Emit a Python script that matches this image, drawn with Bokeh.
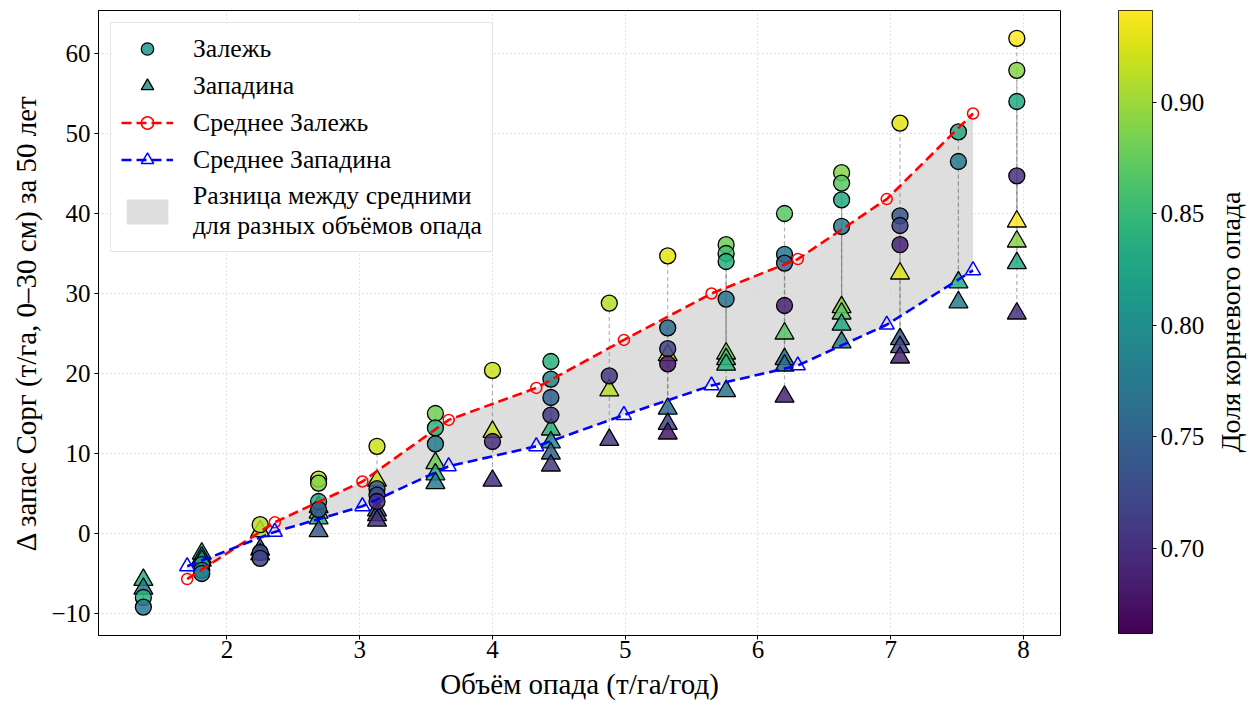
import numpy as np
from bokeh.plotting import figure
from bokeh.models import (ColumnDataSource, LinearColorMapper, Legend, LegendItem,
                          FixedTicker, Range1d, NumeralTickFormatter)
from bokeh.transform import transform
from bokeh.palettes import Viridis256
from bokeh.layouts import row
from bokeh.embed import file_html
from bokeh.resources import INLINE

# ---------------- data ----------------
litter = [1.37, 1.37,
          1.81, 1.81, 1.81,
          2.25, 2.25, 2.25,
          2.69, 2.69, 2.69, 2.69,
          3.13, 3.13, 3.13, 3.13,
          3.57, 3.57, 3.57,
          4.00, 4.00,
          4.44, 4.44, 4.44, 4.44,
          4.88, 4.88,
          5.32, 5.32, 5.32, 5.32,
          5.76, 5.76, 5.76, 5.76,
          6.20, 6.20, 6.20, 6.20,
          6.63, 6.63, 6.63, 6.63,
          7.07, 7.07, 7.07, 7.07,
          7.51, 7.51,
          7.95, 7.95, 7.95, 7.95]
root_frac = [0.84, 0.77,
             0.81, 0.79, 0.78,
             0.91, 0.73, 0.72,
             0.91, 0.89, 0.83, 0.74,
             0.92, 0.74, 0.72, 0.70,
             0.88, 0.84, 0.78,
             0.92, 0.70,
             0.84, 0.79, 0.75, 0.71,
             0.91, 0.71,
             0.93, 0.76, 0.72, 0.68,
             0.88, 0.86, 0.84, 0.77,
             0.87, 0.77, 0.76, 0.69,
             0.89, 0.87, 0.83, 0.78,
             0.93, 0.74, 0.72, 0.69,
             0.83, 0.78,
             0.94, 0.89, 0.83, 0.70]
zalezh = [-8.0, -9.2,
          -3.9, -4.6, -5.0,
          1.1, -2.4, -3.1,
          6.8, 6.3, 4.0, 3.0,
          10.9, 5.6, 4.8, 4.0,
          15.0, 13.2, 11.2,
          20.4, 11.5,
          21.5, 19.3, 17.0, 14.8,
          28.8, 19.7,
          34.7, 25.7, 23.1, 21.2,
          36.1, 35.0, 34.0, 29.3,
          40.0, 34.9, 33.8, 28.5,
          45.1, 43.8, 41.7, 38.4,
          51.3, 39.7, 38.5, 36.1,
          50.2, 46.5,
          61.9, 57.9, 54.0, 44.7]
zapadina = [-5.8, -6.9,
            -2.5, -3.0, -3.4,
            0.3, -2.0, -2.6,
            3.3, 2.6, 1.9, 0.3,
            6.6, 2.9, 2.3, 1.6,
            8.8, 7.4, 6.3,
            12.7, 6.6,
            13.0, 11.4, 10.0, 8.5,
            17.9, 11.7,
            22.3, 15.6, 13.7, 12.5,
            22.5, 21.8, 21.1, 17.8,
            25.0, 21.8, 21.0, 17.1,
            28.3, 27.5, 26.1, 23.9,
            32.5, 24.3, 23.3, 22.0,
            31.4, 28.9,
            39.0, 36.5, 33.8, 27.5]

mean_litter = [1.70, 2.36, 3.02, 3.67, 4.33, 4.99, 5.65, 6.30, 6.97, 7.62]
mean_zalezh = [-5.7, 1.4, 6.5, 14.2, 18.2, 24.2, 30.0, 34.3, 41.8, 52.5]
mean_zapadina = [-4.1, 0.2, 3.4, 8.4, 10.9, 14.8, 18.5, 21.0, 26.1, 32.9]

x_ticks = [2, 3, 4, 5, 6, 7, 8]
y_ticks = [-10, 0, 10, 20, 30, 40, 50, 60]
cbar_ticks = [0.70, 0.75, 0.80, 0.85, 0.90]
cbar_low, cbar_high = 0.662, 0.941

FONT = "Liberation Serif"
TICK_FS = "25px"
LABEL_FS = "29px"
LEG_FS = "25.7px"

mapper = LinearColorMapper(palette=Viridis256, low=cbar_low, high=cbar_high)
src = ColumnDataSource(dict(x=litter, rf=root_frac, zal=zalezh, zap=zapadina))

p = figure(frame_width=962, frame_height=625,
           x_range=Range1d(1.032, 8.279), y_range=Range1d(-12.75, 65.375),
           output_backend="svg", toolbar_location=None,
           min_border_left=98, min_border_top=10, min_border_right=10, min_border_bottom=64)

p.outline_line_color = "black"
p.outline_line_width = 1
p.background_fill_color = "white"
p.border_fill_color = "white"

for ax in (p.xaxis[0], p.yaxis[0]):
    ax.major_label_text_font = FONT
    ax.major_label_text_font_size = TICK_FS
    ax.major_label_text_color = "black"
    ax.axis_label_text_font = FONT
    ax.axis_label_text_font_size = LABEL_FS
    ax.axis_label_text_font_style = "normal"
    ax.axis_label_text_color = "black"
    ax.major_tick_out = 4
    ax.major_tick_in = 0
    ax.minor_tick_out = 0
    ax.minor_tick_in = 0
    ax.major_tick_line_color = "black"
    ax.axis_line_color = "black"

p.xaxis.ticker = FixedTicker(ticks=x_ticks)
p.yaxis.ticker = FixedTicker(ticks=y_ticks)
p.yaxis.major_label_overrides = {t: (("\u2212" + str(abs(t))) if t < 0 else str(t)) for t in y_ticks}
p.xaxis.axis_label = "Объём опада (т/га/год)"
p.yaxis.axis_label = "Δ запас Сорг (т/га, 0–30 см) за 50 лет"
p.xaxis.major_label_standoff = 1
p.yaxis.major_label_standoff = 4
p.xaxis.axis_label_standoff = 7
p.yaxis.axis_label_standoff = 6

for g in (p.xgrid[0], p.ygrid[0]):
    g.grid_line_color = "#c4c4c4"
    g.grid_line_dash = "1 3"
    g.grid_line_width = 1
p.xgrid.ticker = FixedTicker(ticks=x_ticks)
p.ygrid.ticker = FixedTicker(ticks=y_ticks)

# shaded difference between means
area = p.varea(x=mean_litter, y1=mean_zapadina, y2=mean_zalezh,
               fill_color="#d3d3d3", fill_alpha=0.75)

# vertical connectors
p.segment(x0="x", y0="zal", x1="x", y1="zap", source=src,
          line_color="gray", line_alpha=0.6, line_width=1.2, line_dash="4 3")

tri = p.scatter(x="x", y="zap", source=src, marker="triangle", size=19,
                fill_color=transform("rf", mapper), fill_alpha=0.85,
                line_color="black", line_width=1.3)
circ = p.scatter(x="x", y="zal", source=src, marker="circle", size=16,
                 fill_color=transform("rf", mapper), fill_alpha=0.85,
                 line_color="black", line_width=1.3)

rl = p.line(mean_litter, mean_zalezh, line_color="red", line_width=2.6, line_dash="10 5")
rm = p.scatter(mean_litter, mean_zalezh, marker="circle", size=11, fill_color=None,
               line_color="red", line_width=1.5)
bl = p.line(mean_litter, mean_zapadina, line_color="blue", line_width=2.6, line_dash="10 5")
bm = p.scatter(mean_litter, mean_zapadina, marker="triangle", size=15, fill_color=None,
               line_color="blue", line_width=1.5)

legend = Legend(items=[
    LegendItem(label="Залежь", renderers=[circ], index=2),
    LegendItem(label="Западина", renderers=[tri], index=2),
    LegendItem(label="Среднее Залежь", renderers=[rl, rm]),
    LegendItem(label="Среднее Западина", renderers=[bl, bm]),
    LegendItem(label="Разница между средними\nдля разных объёмов опада", renderers=[area]),
], location="top_left")
legend.margin = 12
legend.padding = 10
legend.spacing = 6
legend.glyph_width = 52
legend.glyph_height = 31
legend.label_height = 31
legend.label_standoff = 20
legend.label_text_font = FONT
legend.label_text_font_size = LEG_FS
legend.label_text_color = "black"
legend.border_line_color = "#cccccc"
legend.border_line_width = 1
legend.background_fill_color = "white"
legend.background_fill_alpha = 0.85
p.add_layout(legend)

# ---------------- colorbar ----------------
cb = figure(frame_width=34, frame_height=623,
            x_range=Range1d(0, 1), y_range=Range1d(cbar_low, cbar_high),
            output_backend="svg", toolbar_location=None,
            x_axis_location=None, y_axis_location="right",
            min_border_left=48, min_border_right=54, min_border_top=10, min_border_bottom=40)
cb.grid.visible = False
cb.outline_line_color = "black"
cb.outline_line_width = 1
cb.image(image=[np.linspace(cbar_low, cbar_high, 256).reshape(256, 1)],
         x=0, y=cbar_low, dw=1, dh=cbar_high - cbar_low, color_mapper=mapper)
ya = cb.yaxis[0]
ya.ticker = FixedTicker(ticks=cbar_ticks)
ya.formatter = NumeralTickFormatter(format="0.00")
ya.major_label_text_font = FONT
ya.major_label_text_font_size = TICK_FS
ya.major_label_text_color = "black"
ya.major_tick_out = 4
ya.major_tick_in = 0
ya.minor_tick_out = 0
ya.minor_tick_in = 0
ya.axis_line_color = None
ya.major_label_standoff = 4

# colorbar title (left axis of a thin companion figure, reads bottom-to-top)
lab = figure(frame_width=2, frame_height=623,
             x_range=Range1d(0, 1), y_range=Range1d(0, 1),
             output_backend="svg", toolbar_location=None,
             x_axis_location=None, y_axis_location="left",
             min_border_left=38, min_border_right=0, min_border_top=10, min_border_bottom=40)
lab.grid.visible = False
lab.outline_line_color = None
la = lab.yaxis[0]
la.ticker = FixedTicker(ticks=[])
la.axis_line_color = None
la.major_tick_line_color = None
la.minor_tick_line_color = None
la.major_label_text_font_size = "0px"
la.axis_label = "Доля корневого опада"
la.axis_label_text_font = FONT
la.axis_label_text_font_size = "28px"
la.axis_label_text_font_style = "normal"
la.axis_label_text_color = "black"
la.axis_label_standoff = 0

layout = row(p, cb, lab)
open("out.html", "w").write(file_html(layout, INLINE))
